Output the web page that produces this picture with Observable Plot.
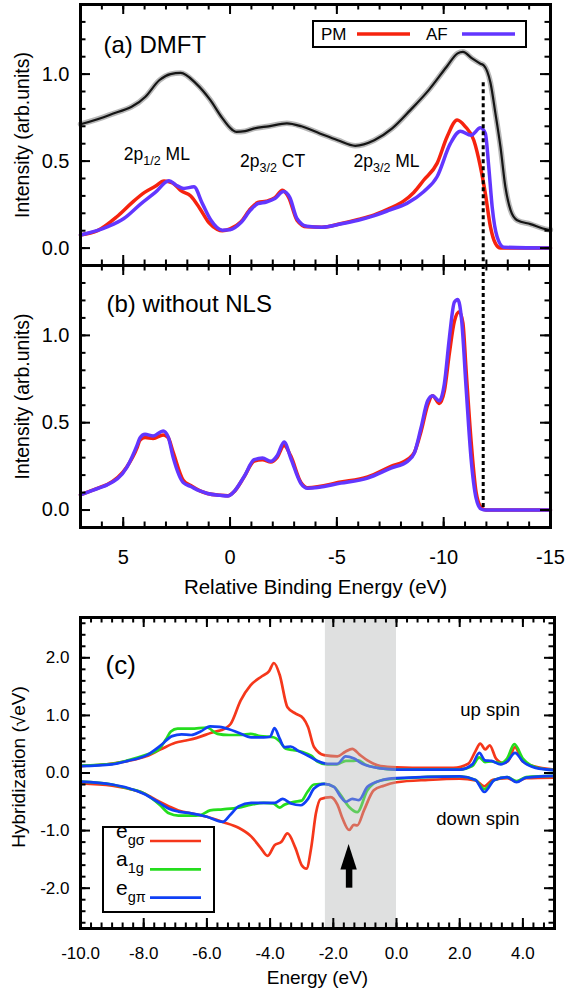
<!DOCTYPE html>
<html>
<head>
<meta charset="utf-8">
<script src="https://cdn.jsdelivr.net/npm/d3@7"></script>
<script src="https://cdn.jsdelivr.net/npm/@observablehq/plot@0.6"></script>
<style>
  body { margin: 0; background: #fff; }
  #wrap { position: relative; width: 568px; height: 994px; overflow: hidden; background: #fff; }
  .panel { position: absolute; left: 0; overflow: hidden; }
</style>
</head>
<body>
<div id="wrap">
  <div class="panel" id="pa" style="top:0px;height:266px;width:568px"></div>
  <div class="panel" id="pb" style="top:263px;height:338px;width:568px"></div>
  <div class="panel" id="pc" style="top:601px;height:393px;width:568px"></div>
</div>
<script>
// ---------------- Panel (a) DMFT ----------------
const aExpX = [7.0, 5.67, 3.96, 3.3, 2.79, 2.31, 1.6, 0.92, 0.41, -0.1, -0.3, -0.7, -1.14, -1.8, -2.66, -3.34, -4.2, -5.04, -5.86, -6.75, -7.59, -8.44, -9.3, -10.14, -10.65, -10.9, -11.33, -11.72, -11.88, -12.19, -12.42, -12.66, -12.89, -13.13, -13.44, -14.06, -14.85, -15.0];
const aExpY = [0.712, 0.764, 0.87, 0.966, 1.0, 1.007, 0.947, 0.85, 0.755, 0.68, 0.668, 0.672, 0.688, 0.70, 0.717, 0.70, 0.659, 0.62, 0.588, 0.62, 0.688, 0.793, 0.908, 1.042, 1.119, 1.128, 1.09, 1.06, 1.05, 0.95, 0.776, 0.58, 0.35, 0.218, 0.16, 0.138, 0.107, 0.105];

const aPmX = [7.0, 6.2, 5.3, 4.6, 4.0, 3.5, 3.09, 2.7, 2.3, 1.84, 1.4, 0.98, 0.6, 0.36, 0.0, -0.5, -0.97, -1.3, -1.7, -2.1, -2.45, -2.75, -3.13, -3.6, -4.3, -5.16, -6.0, -6.72, -7.5, -8.12, -8.6, -9.06, -9.69, -10.16, -10.63, -11.0, -11.41, -11.72, -11.95, -12.19, -12.42, -12.66, -15.0];
const aPmY = [0.075, 0.10, 0.18, 0.26, 0.32, 0.355, 0.385, 0.375, 0.33, 0.30, 0.225, 0.145, 0.108, 0.10, 0.11, 0.15, 0.228, 0.262, 0.27, 0.29, 0.333, 0.29, 0.161, 0.122, 0.12, 0.14, 0.165, 0.19, 0.23, 0.27, 0.32, 0.39, 0.487, 0.64, 0.736, 0.70, 0.62, 0.467, 0.314, 0.122, 0.027, 0, 0];

const aAfX = [7.0, 5.75, 4.97, 4.19, 3.5, 2.86, 2.5, 2.16, 1.69, 1.3, 0.9, 0.36, 0.0, -0.5, -0.97, -1.3, -1.7, -2.1, -2.5, -2.8, -3.13, -3.6, -4.3, -5.16, -6.0, -6.72, -7.5, -8.28, -9.06, -9.69, -10.31, -10.78, -11.28, -11.72, -11.95, -12.11, -12.27, -12.5, -12.81, -15.0];
const aAfY = [0.075, 0.122, 0.17, 0.253, 0.32, 0.387, 0.36, 0.343, 0.352, 0.257, 0.161, 0.103, 0.105, 0.145, 0.22, 0.255, 0.265, 0.285, 0.325, 0.29, 0.17, 0.125, 0.12, 0.138, 0.16, 0.185, 0.22, 0.257, 0.324, 0.41, 0.60, 0.672, 0.649, 0.691, 0.659, 0.467, 0.237, 0.065, 0.005, 0];

const aNoteText = ["2p_{1/2} ML", "2p_{3/2} CT", "2p_{3/2} ML"];
const aNoteX = [4.97, -0.47, -5.78];
const aNoteY = [0.506, 0.467, 0.467];
const dashX = -11.85;
const dashTopA = 0.95;

// ---------------- Panel (b) without NLS ----------------
const bPmX = [7.0, 6.09, 5.75, 4.84, 4.34, 4.22, 3.98, 3.6, 3.13, 2.9, 2.66, 2.19, 1.84, 1.41, 1.06, 0.47, 0.1, -0.19, -0.66, -1.13, -1.52, -1.91, -2.2, -2.53, -2.84, -3.31, -3.63, -5.19, -6.44, -7.53, -8.31, -8.63, -8.94, -9.25, -9.48, -9.8, -10.03, -10.27, -10.5, -10.73, -10.9, -11.05, -11.28, -11.52, -11.75, -11.98, -15.0];
const bPmY = [0.087, 0.13, 0.146, 0.245, 0.36, 0.40, 0.415, 0.41, 0.43, 0.415, 0.33, 0.17, 0.14, 0.11, 0.095, 0.085, 0.082, 0.105, 0.19, 0.28, 0.288, 0.275, 0.30, 0.37, 0.31, 0.16, 0.128, 0.16, 0.19, 0.25, 0.29, 0.33, 0.45, 0.60, 0.655, 0.61, 0.68, 0.90, 1.08, 1.135, 1.07, 0.80, 0.40, 0.10, 0.015, 0, 0];
const bAfX = [7.0, 6.09, 5.75, 4.84, 4.34, 4.22, 3.98, 3.6, 3.13, 2.9, 2.66, 2.19, 1.84, 1.41, 1.06, 0.47, 0.1, -0.19, -0.66, -1.13, -1.52, -1.91, -2.2, -2.53, -2.84, -3.31, -3.63, -5.19, -6.44, -7.53, -8.31, -8.63, -8.94, -9.25, -9.48, -9.8, -10.03, -10.27, -10.5, -10.66, -10.84, -11.05, -11.28, -11.52, -11.75, -11.98, -15.0];
const bAfY = [0.087, 0.128, 0.144, 0.243, 0.375, 0.413, 0.434, 0.424, 0.453, 0.42, 0.30, 0.157, 0.135, 0.109, 0.095, 0.084, 0.08, 0.106, 0.192, 0.288, 0.298, 0.279, 0.31, 0.39, 0.298, 0.154, 0.125, 0.154, 0.183, 0.24, 0.279, 0.327, 0.471, 0.625, 0.654, 0.625, 0.721, 0.99, 1.19, 1.206, 1.087, 0.70, 0.298, 0.067, 0.006, 0, 0];

// ---------------- Panel (c) hybridization ----------------
const cSigUpX = [-10, -9.06, -8.49, -7.92, -7.46, -7.0, -6.66, -6.32, -5.86, -5.4, -5.25, -4.93, -4.62, -4.26, -4.03, -3.88, -3.7, -3.45, -3.19, -2.95, -2.8, -2.61, -2.29, -1.87, -1.62, -1.4, -1.17, -0.92, -0.5, 0, 1.0, 1.8, 2.27, 2.5, 2.65, 2.81, 2.95, 3.15, 3.38, 3.55, 3.75, 3.98, 4.32, 5.0];
const cSigUpY = [0.12, 0.16, 0.21, 0.29, 0.41, 0.525, 0.565, 0.61, 0.70, 0.78, 0.85, 1.26, 1.52, 1.68, 1.77, 1.91, 1.71, 1.14, 1.03, 0.95, 0.8, 0.45, 0.31, 0.29, 0.37, 0.42, 0.32, 0.22, 0.12, 0.10, 0.09, 0.09, 0.16, 0.38, 0.51, 0.41, 0.48, 0.25, 0.17, 0.22, 0.45, 0.21, 0.12, 0.06];
const cA1gUpX = [-10, -9.0, -8.5, -7.9, -7.56, -7.3, -7.14, -6.93, -6.5, -6.0, -5.67, -5.3, -4.93, -4.62, -4.31, -3.9, -3.7, -3.5, -3.3, -3.0, -2.7, -2.5, -2.2, -1.9, -1.6, -1.4, -1.2, -1.0, -0.6, 0, 2.0, 2.4, 2.62, 2.8, 3.0, 3.3, 3.5, 3.73, 4.0, 4.4, 5.0];
const cA1gUpY = [0.13, 0.16, 0.22, 0.32, 0.39, 0.58, 0.72, 0.77, 0.77, 0.79, 0.68, 0.66, 0.66, 0.68, 0.64, 0.62, 0.55, 0.42, 0.40, 0.37, 0.30, 0.20, 0.15, 0.15, 0.21, 0.21, 0.22, 0.15, 0.09, 0.06, 0.06, 0.12, 0.27, 0.19, 0.20, 0.17, 0.25, 0.50, 0.25, 0.10, 0.05];
const cPiUpX = [-10, -9.0, -8.5, -7.9, -7.46, -7.1, -6.8, -6.5, -6.2, -5.9, -5.6, -5.3, -5.0, -4.6, -4.2, -4.0, -3.86, -3.7, -3.55, -3.35, -3.1, -2.8, -2.5, -2.18, -1.87, -1.61, -1.34, -1.08, -0.5, 0, 2.0, 2.4, 2.62, 2.8, 3.0, 3.3, 3.5, 3.75, 4.0, 4.4, 5.0];
const cPiUpY = [0.12, 0.15, 0.21, 0.31, 0.48, 0.64, 0.67, 0.66, 0.72, 0.81, 0.80, 0.76, 0.70, 0.62, 0.62, 0.63, 0.78, 0.60, 0.45, 0.46, 0.38, 0.30, 0.21, 0.16, 0.16, 0.29, 0.25, 0.16, 0.08, 0.06, 0.06, 0.15, 0.35, 0.22, 0.21, 0.15, 0.20, 0.35, 0.20, 0.09, 0.05];

const cSigDnX = [-10, -9, -8.5, -8.0, -7.5, -7.2, -6.9, -6.5, -6.0, -5.5, -5.0, -4.6, -4.3, -4.08, -3.85, -3.65, -3.45, -3.2, -3.0, -2.85, -2.7, -2.55, -2.4, -2.08, -1.87, -1.7, -1.5, -1.35, -1.24, -1.03, -0.72, -0.4, 0, 1.0, 2.0, 2.5, 2.78, 3.05, 3.5, 3.8, 4.1, 5.0];
const cSigDnY = [-0.18, -0.22, -0.27, -0.35, -0.50, -0.58, -0.65, -0.70, -0.76, -0.85, -0.95, -1.1, -1.3, -1.44, -1.25, -1.20, -1.05, -1.3, -1.6, -1.66, -1.3, -0.7, -0.45, -0.42, -0.55, -0.8, -0.99, -0.9, -0.91, -0.65, -0.3, -0.22, -0.16, -0.12, -0.1, -0.13, -0.23, -0.12, -0.09, -0.15, -0.09, -0.08];
const cA1gDnX = [-10, -9, -8.5, -8, -7.5, -7.2, -6.9, -6.5, -6.2, -5.9, -5.5, -5.0, -4.6, -4.2, -3.9, -3.7, -3.55, -3.24, -3.0, -2.82, -2.61, -2.29, -1.98, -1.77, -1.5, -1.24, -0.92, -0.5, 0, 2, 2.5, 2.78, 3.1, 3.5, 3.8, 4.1, 5];
const cA1gDnY = [-0.15, -0.2, -0.27, -0.35, -0.55, -0.7, -0.74, -0.74, -0.73, -0.65, -0.63, -0.6, -0.55, -0.52, -0.53, -0.6, -0.55, -0.5, -0.48, -0.33, -0.2, -0.19, -0.24, -0.38, -0.59, -0.68, -0.3, -0.13, -0.1, -0.06, -0.12, -0.28, -0.12, -0.07, -0.14, -0.07, -0.05];
const cPiDnX = [-10, -9, -8.5, -8, -7.5, -7.2, -6.9, -6.5, -6.0, -5.5, -5.25, -5.0, -4.6, -4.2, -3.85, -3.6, -3.34, -3.03, -2.8, -2.61, -2.29, -1.98, -1.77, -1.61, -1.4, -1.19, -0.92, -0.5, 0, 2, 2.5, 2.78, 3.1, 3.5, 3.8, 4.1, 5];
const cPiDnY = [-0.15, -0.2, -0.26, -0.36, -0.52, -0.62, -0.67, -0.70, -0.76, -0.85, -0.72, -0.58, -0.52, -0.52, -0.52, -0.45, -0.53, -0.56, -0.45, -0.27, -0.19, -0.24, -0.41, -0.5, -0.45, -0.47, -0.24, -0.13, -0.09, -0.06, -0.12, -0.33, -0.12, -0.07, -0.16, -0.08, -0.05];

const cBand = [{x1: -2.25, x2: 0}];
const cArrow = {x: -1.5, tail: -2.0, tip: -1.24, base: -1.686, half: 0.26};
const cNoteText = ["up spin", "down spin"];
const cNoteX = [2.02, 1.26];
const cNoteY = [1.09, -0.80];

// ---------------- Tick labels ----------------
const abMajorX = [5, 0, -5, -10, -15];
const abMajorY = [0, 0.5, 1.0];
const cMajorX = [-10, -8, -6, -4, -2, 0, 2, 4];
const cMajorY = [-2, -1, 0, 1, 2];
const abMinorX = d3.range(-15, 8, 1);
const abMinorY = d3.range(-0.1, 1.41, 0.1);
const cMinorX = d3.range(0, 46).map(k => -10 + k / 3);
const cMinorY = d3.range(-13, 14).map(k => k * 0.2);

// ---------------- helpers ----------------
const FONT = "'Liberation Sans', Arial, Helvetica, sans-serif";
const pts = (xs, ys) => xs.map((x, i) => ({x, y: ys[i]}));
const C = {pm: "#f6230e", af: "#6236ff", sig: "#f5371b", a1g: "#25dd1e", pi: "#1040f5"};

function frameTicks(xMaj, xMin, yMaj, yMin, W, H, maj = 10, min = 5.5) {
  const s = {stroke: "black", strokeWidth: 2};
  return [
    Plot.tickX(xMaj, {x: d => d, insetTop: H - maj, ...s}),
    Plot.tickX(xMaj, {x: d => d, insetBottom: H - maj, ...s}),
    Plot.tickX(xMin, {x: d => d, insetTop: H - min, ...s}),
    Plot.tickX(xMin, {x: d => d, insetBottom: H - min, ...s}),
    Plot.tickY(yMaj, {y: d => d, insetRight: W - maj, ...s}),
    Plot.tickY(yMaj, {y: d => d, insetLeft: W - maj, ...s}),
    Plot.tickY(yMin, {y: d => d, insetRight: W - min, ...s}),
    Plot.tickY(yMin, {y: d => d, insetLeft: W - min, ...s})
  ];
}

function subscriptify(svg, subSize, shift) {
  d3.select(svg).selectAll("text").each(function () {
    const t = this.textContent;
    if (!t.includes("_{")) return;
    const parts = t.split(/(_\{[^}]*\})/).filter(s => s.length);
    const sel = d3.select(this);
    sel.text(null);
    let down = false;
    parts.forEach(p => {
      if (p.startsWith("_{")) {
        sel.append("tspan").attr("font-size", subSize).attr("dy", shift).text(p.slice(2, -1));
        down = true;
      } else {
        const ts = sel.append("tspan").text(p);
        if (down) { ts.attr("dy", -shift); down = false; }
      }
    });
  });
}

const baseStyle = {fontFamily: FONT, color: "black", background: "none", overflow: "hidden"};

// ---------------- Panel (a) ----------------
const HA = 261, WAB = 470;
const svgA = Plot.plot({
  width: 568, height: 266, marginTop: 4, marginBottom: 1, marginLeft: 80, marginRight: 18,
  style: baseStyle,
  x: {domain: [7, -15], axis: null},
  y: {domain: [-0.1, 1.4], axis: null},
  marks: [
    Plot.line(pts(aExpX, aExpY), {x: "x", y: "y", stroke: "#000", strokeOpacity: 0.28, strokeWidth: 5.5, curve: "monotone-x"}),
    Plot.line(pts(aExpX, aExpY), {x: "x", y: "y", stroke: "#151515", strokeWidth: 2.2, curve: "monotone-x"}),
    Plot.line(pts(aPmX, aPmY), {x: "x", y: "y", stroke: C.pm, strokeWidth: 3.5, curve: "monotone-x"}),
    Plot.line(pts(aAfX, aAfY), {x: "x", y: "y", stroke: C.af, strokeWidth: 3.5, curve: "monotone-x"}),
    Plot.ruleX([dashX], {y1: dashTopA, y2: -0.1, stroke: "black", strokeWidth: 3, strokeDasharray: "4,3"}),
    Plot.text(aNoteText, {x: (d, i) => aNoteX[i], y: (d, i) => aNoteY[i], textAnchor: "start", lineAnchor: "bottom", fontSize: 17.5}),
    Plot.text(["(a) DMFT"], {frameAnchor: "top-left", dx: 23, dy: 48, textAnchor: "start", lineAnchor: "bottom", fontSize: 24}),
    Plot.text(abMajorY, {y: d => d, text: d => d.toFixed(1), frameAnchor: "left", dx: -11, textAnchor: "end", lineAnchor: "middle", fontSize: 20}),
    Plot.text(["Intensity (arb.units)"], {frameAnchor: "left", dx: -58, rotate: -90, textAnchor: "middle", lineAnchor: "middle", fontSize: 19.5}),
    ...frameTicks(abMajorX, abMinorX, abMajorY, abMinorY, WAB, HA),
    Plot.frame({stroke: "black", strokeWidth: 3})
  ]
});
subscriptify(svgA, 12.5, 5);
{
  const g = d3.select(svgA).append("g").attr("font-family", FONT).attr("font-size", 17).attr("text-anchor", "start");
  g.append("rect").attr("x", 313).attr("y", 21).attr("width", 213).attr("height", 26)
    .attr("fill", "white").attr("stroke", "black").attr("stroke-width", 2);
  g.append("text").attr("x", 321).attr("y", 40).attr("text-anchor", "start").text("PM");
  g.append("line").attr("x1", 357).attr("x2", 410).attr("y1", 34).attr("y2", 34).attr("stroke", C.pm).attr("stroke-width", 3.5);
  g.append("text").attr("x", 426).attr("y", 40).attr("text-anchor", "start").text("AF");
  g.append("line").attr("x1", 462).attr("x2", 515).attr("y1", 34).attr("y2", 34).attr("stroke", C.af).attr("stroke-width", 3.5);
}
document.getElementById("pa").append(svgA);

// ---------------- Panel (b) ----------------
const HB = 262;
const svgB = Plot.plot({
  width: 568, height: 338, marginTop: 2, marginBottom: 74, marginLeft: 80, marginRight: 18,
  style: baseStyle,
  x: {domain: [7, -15], axis: null},
  y: {domain: [-0.1, 1.4], axis: null},
  marks: [
    Plot.line(pts(bPmX, bPmY), {x: "x", y: "y", stroke: C.pm, strokeWidth: 3.5, curve: "monotone-x"}),
    Plot.line(pts(bAfX, bAfY), {x: "x", y: "y", stroke: C.af, strokeWidth: 3.5, curve: "monotone-x"}),
    Plot.ruleX([dashX], {y1: 1.4, y2: 0, stroke: "black", strokeWidth: 3, strokeDasharray: "4,3"}),
    Plot.text(["(b) without NLS"], {frameAnchor: "top-left", dx: 26, dy: 46, textAnchor: "start", lineAnchor: "bottom", fontSize: 24}),
    Plot.text(abMajorY, {y: d => d, text: d => d.toFixed(1), frameAnchor: "left", dx: -11, textAnchor: "end", lineAnchor: "middle", fontSize: 20}),
    Plot.text(abMajorX, {x: d => d, text: d => String(d), frameAnchor: "bottom", dy: 30, lineAnchor: "middle", fontSize: 20}),
    Plot.text(["Relative Binding Energy (eV)"], {frameAnchor: "bottom", dy: 66, lineAnchor: "bottom", fontSize: 20.5}),
    Plot.text(["Intensity (arb.units)"], {frameAnchor: "left", dx: -58, rotate: -90, textAnchor: "middle", lineAnchor: "middle", fontSize: 19.5}),
    ...frameTicks(abMajorX, abMinorX, abMajorY, abMinorY, WAB, HB),
    Plot.frame({stroke: "black", strokeWidth: 3})
  ]
});
document.getElementById("pb").append(svgB);

// ---------------- Panel (c) ----------------
const HC = 311, WC = 474;
const lineC = (xs, ys, color) => Plot.line(pts(xs, ys), {x: "x", y: "y", stroke: color, strokeWidth: 2.7, curve: "monotone-x"});
const headPts = [
  {x: cArrow.x - cArrow.half, y1: cArrow.base, y2: cArrow.base},
  {x: cArrow.x, y1: cArrow.base, y2: cArrow.tip},
  {x: cArrow.x + cArrow.half, y1: cArrow.base, y2: cArrow.base}
];
const svgC = Plot.plot({
  width: 568, height: 393, marginTop: 16, marginBottom: 66, marginLeft: 80, marginRight: 14,
  style: baseStyle,
  x: {domain: [-10, 5], axis: null},
  y: {domain: [-2.7, 2.7], axis: null},
  marks: [
    lineC(cSigUpX, cSigUpY, C.sig),
    lineC(cSigDnX, cSigDnY, C.sig),
    lineC(cA1gUpX, cA1gUpY, C.a1g),
    lineC(cA1gDnX, cA1gDnY, C.a1g),
    lineC(cPiUpX, cPiUpY, C.pi),
    lineC(cPiDnX, cPiDnY, C.pi),
    Plot.rect(cBand, {x1: "x1", x2: "x2", fill: "#b2b6b6", fillOpacity: 0.42}),
    Plot.ruleX([cArrow.x], {y1: cArrow.tail, y2: cArrow.base + 0.02, stroke: "black", strokeWidth: 6.5}),
    Plot.areaY(headPts, {x: "x", y1: "y1", y2: "y2", fill: "black"}),
    Plot.text(cNoteText, {x: (d, i) => cNoteX[i], y: (d, i) => cNoteY[i], textAnchor: "start", lineAnchor: "middle", fontSize: 18.5}),
    Plot.text(["(c)"], {frameAnchor: "top-left", dx: 25, dy: 56, textAnchor: "start", lineAnchor: "bottom", fontSize: 26}),
    Plot.text(cMajorY, {y: d => d, text: d => d.toFixed(1), frameAnchor: "left", dx: -11, textAnchor: "end", lineAnchor: "middle", fontSize: 17}),
    Plot.text(cMajorX, {x: d => d, text: d => d.toFixed(1), frameAnchor: "bottom", dy: 25, lineAnchor: "middle", fontSize: 17}),
    Plot.text(["Energy (eV)"], {frameAnchor: "bottom", dy: 55, lineAnchor: "bottom", fontSize: 19}),
    Plot.text(["Hybridization (\u221AeV)"], {frameAnchor: "left", dx: -62, dy: -6, rotate: -90, textAnchor: "middle", lineAnchor: "middle", fontSize: 19}),
    ...frameTicks(cMajorX, cMinorX, cMajorY, cMinorY, WC, HC),
    Plot.frame({stroke: "black", strokeWidth: 3})
  ]
});
{
  const g = d3.select(svgC).append("g").attr("font-family", FONT).attr("text-anchor", "start");
  g.append("rect").attr("x", 103).attr("y", 226).attr("width", 111).attr("height", 85)
    .attr("fill", "white").attr("stroke", "black").attr("stroke-width", 2);
  const entries = [["e", "g\u03C3", C.sig, 240], ["a", "1g", C.a1g, 268.3], ["e", "g\u03C0", C.pi, 296.7]];
  entries.forEach(([m, s, col, y]) => {
    const t = g.append("text").attr("x", 116).attr("y", y - 3).attr("font-size", 21).attr("text-anchor", "start");
    t.append("tspan").text(m);
    t.append("tspan").attr("font-size", 14.5).attr("dy", 7).text(s);
    g.append("line").attr("x1", 150).attr("x2", 201).attr("y1", y).attr("y2", y).attr("stroke", col).attr("stroke-width", 2.7);
  });
}
document.getElementById("pc").append(svgC);
</script>
</body>
</html>
